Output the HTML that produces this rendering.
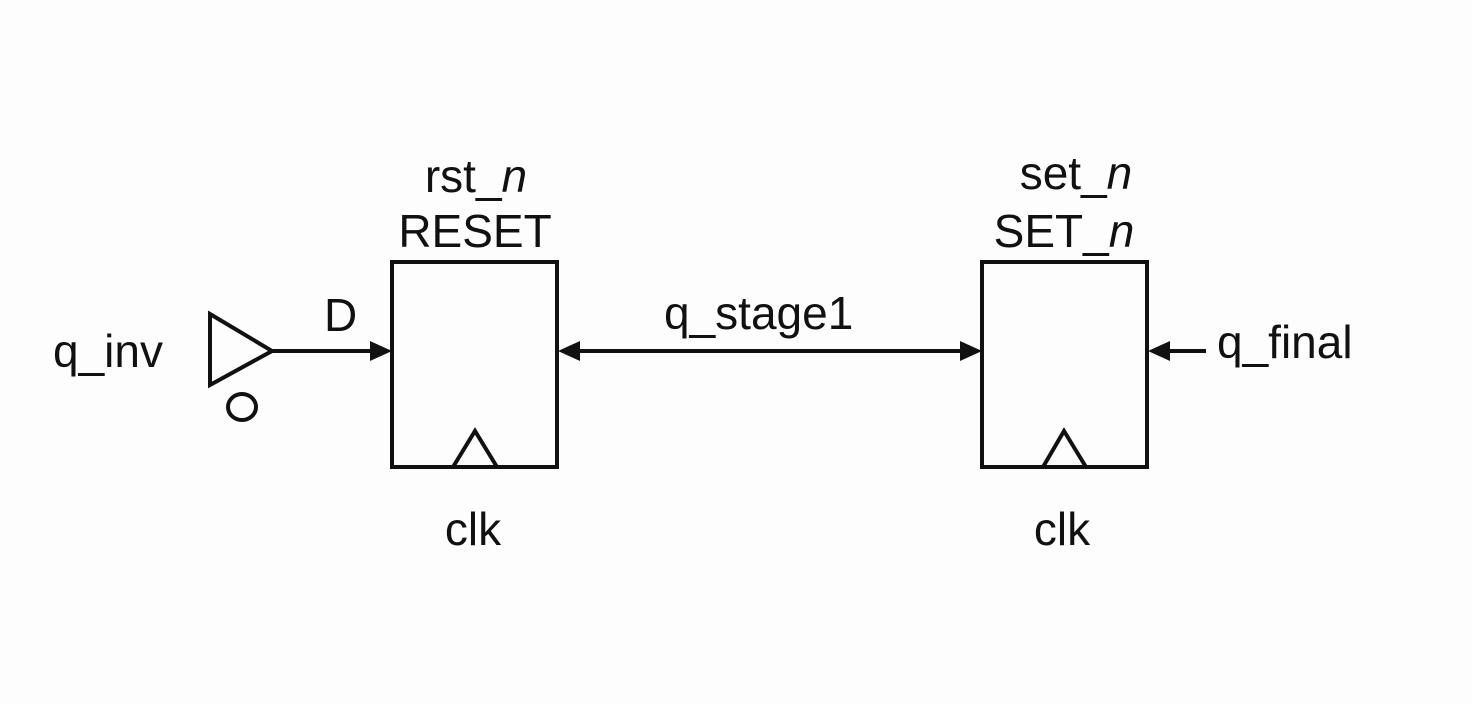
<!DOCTYPE html>
<html><head><meta charset="utf-8"><style>
html,body{margin:0;padding:0;background:#fdfdfd;}
svg{display:block}
text{font-family:"Liberation Sans",Arial,sans-serif;font-size:46px;fill:#111}
</style></head><body>
<svg width="1472" height="704" viewBox="0 0 1472 704">
<g fill="none" stroke="#111" stroke-width="4">
<rect x="392" y="262" width="165" height="205"/>
<rect x="982" y="262" width="165" height="205"/>
<polyline points="453,467 475,431 497,467"/>
<polyline points="1043,467 1064,431 1086,467"/>
<polygon points="210,314 272,351 210,385" stroke-linejoin="miter"/>
<ellipse cx="242" cy="407" rx="14" ry="13"/>
<line x1="272" y1="351" x2="372" y2="351"/>
<line x1="578" y1="351" x2="962" y2="351"/>
<line x1="1168" y1="351" x2="1206" y2="351"/>
</g>
<g fill="#111">
<polygon points="370,341 392,351 370,361"/>
<polygon points="580,341 558,351 580,361"/>
<polygon points="960,341 982,351 960,361"/>
<polygon points="1170,341 1148,351 1170,361"/>
</g>
<text x="53" y="367">q_inv</text>
<text x="324" y="331">D</text>
<text x="664" y="329">q_stage1</text>
<text x="1217" y="358">q_final</text>
<text x="476" y="192" text-anchor="middle">rst_<tspan font-style="italic">n</tspan></text>
<text x="475" y="247" text-anchor="middle">RESET</text>
<text x="1076" y="189" text-anchor="middle">set_<tspan font-style="italic">n</tspan></text>
<text x="1064" y="247" text-anchor="middle">SET_<tspan font-style="italic">n</tspan></text>
<text x="473" y="545" text-anchor="middle">clk</text>
<text x="1062" y="545" text-anchor="middle">clk</text>
</svg>
</body></html>
